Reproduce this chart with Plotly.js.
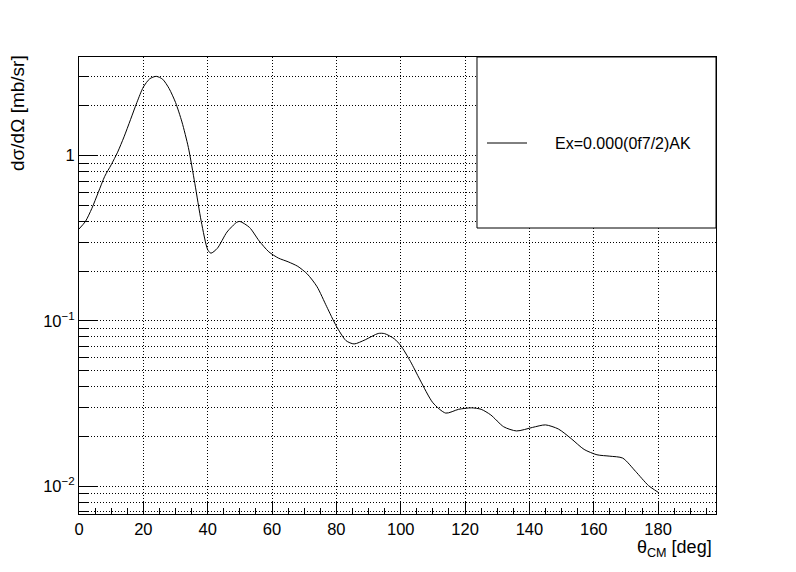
<!DOCTYPE html>
<html>
<head>
<meta charset="utf-8">
<script src="https://cdn.plot.ly/plotly-3.0.1.min.js"></script>
<style>html,body{margin:0;padding:0;background:#fff;}#chart{width:796px;height:572px;}</style>
</head>
<body>
<div id="chart"></div>
<script>
const thetaCM = [0, 2, 4, 6, 8, 10, 12, 14, 16, 18, 20, 22, 24, 26, 28, 30, 32, 34, 36, 38, 40, 41, 43, 46, 49, 50, 53, 56, 59, 62, 65, 68, 71, 74, 77, 80, 83, 85.5, 89, 93, 95, 98, 100, 103, 106, 110, 114, 118, 122, 125, 128, 132, 136, 141, 145, 149, 153, 157, 161, 165, 169, 173, 177, 180];
const dsigma = [0.36, 0.40, 0.48, 0.60, 0.75, 0.88, 1.05, 1.30, 1.65, 2.10, 2.60, 2.92, 3.02, 2.90, 2.55, 2.10, 1.60, 1.12, 0.68, 0.40, 0.27, 0.257, 0.275, 0.345, 0.395, 0.40, 0.368, 0.305, 0.262, 0.240, 0.228, 0.214, 0.192, 0.161, 0.122, 0.093, 0.076, 0.0726, 0.077, 0.084, 0.0838, 0.078, 0.071, 0.057, 0.044, 0.032, 0.0277, 0.0292, 0.0298, 0.0292, 0.027, 0.0229, 0.0216, 0.0227, 0.0235, 0.0222, 0.0194, 0.0167, 0.0155, 0.0152, 0.0148, 0.0123, 0.0101, 0.0092];
const seriesName = "Ex=0.000(0f7/2)AK";
const yTickVals = [0.01, 0.1, 1];
const yTickText = ["10<sup>\u22122</sup>", "10<sup>\u22121</sup>", "1"];
const xTickVals = [0, 20, 40, 60, 80, 100, 120, 140, 160, 180];

const FAM = "Liberation Sans, Arial, sans-serif";
function f(size) { return {family: FAM, size: size, color: "#000"}; }
const DOT = "1px,2px";

const trace = {
  x: thetaCM, y: dsigma, type: "scatter", mode: "lines",
  name: seriesName,
  line: {color: "#000", width: 1, shape: "spline", smoothing: 0.7},
  showlegend: false
};

const layout = {
  width: 796, height: 572,
  margin: {l: 79, r: 80, t: 57, b: 58},
  paper_bgcolor: "#fff", plot_bgcolor: "#fff",
  font: f(16),
  xaxis: {
    range: [0, 198], tickvals: xTickVals, ticks: "inside", ticklen: 12, tickcolor: "#000",
    showline: true, mirror: true, linecolor: "#000", linewidth: 1,
    showgrid: true, gridcolor: "#000", griddash: DOT, gridwidth: 1,
    zeroline: false,
    minor: {dtick: 5, ticks: "inside", ticklen: 6, tickcolor: "#000", showgrid: false},
    tickfont: f(16.5)
  },
  yaxis: {
    type: "log", range: [-2.168, 0.597], tickvals: yTickVals, ticktext: yTickText,
    ticks: "inside", ticklen: 19, tickcolor: "#000",
    showline: true, mirror: true, linecolor: "#000", linewidth: 1,
    showgrid: true, gridcolor: "#000", griddash: DOT, gridwidth: 1,
    zeroline: false,
    minor: {dtick: "D1", ticks: "inside", ticklen: 10, tickcolor: "#000", showgrid: true, gridcolor: "#000", griddash: DOT, gridwidth: 1},
    tickfont: f(16.5)
  },
  shapes: [
    {type: "rect", xref: "paper", yref: "paper", x0: 0.6248, x1: 1, y0: 0.6258, y1: 1,
     line: {color: "#000", width: 1}, fillcolor: "#fff", layer: "above"},
    {type: "line", xref: "paper", yref: "paper", x0: 0.6405, x1: 0.7033, y0: 0.8118, y1: 0.8118,
     line: {color: "#000", width: 1}, layer: "above"}
  ],
  annotations: [
    {text: seriesName, xref: "paper", yref: "paper", x: 0.7441, y: 0.8118, xanchor: "left", yanchor: "middle", showarrow: false, font: f(16)},
    {text: "d\u03C3/d\u03A9 [mb/sr]", xref: "paper", yref: "paper", x: -0.0958, y: 0.8775, xanchor: "center", yanchor: "middle", textangle: -90, showarrow: false, font: f(19)},
    {text: "\u03B8<sub>CM</sub> [deg]", xref: "paper", yref: "paper", x: 0.9969, y: -0.0744, xanchor: "right", yanchor: "middle", showarrow: false, font: f(18)}
  ]
};

Plotly.newPlot("chart", [trace], layout, {displayModeBar: false, staticPlot: true});
</script>
</body>
</html>
